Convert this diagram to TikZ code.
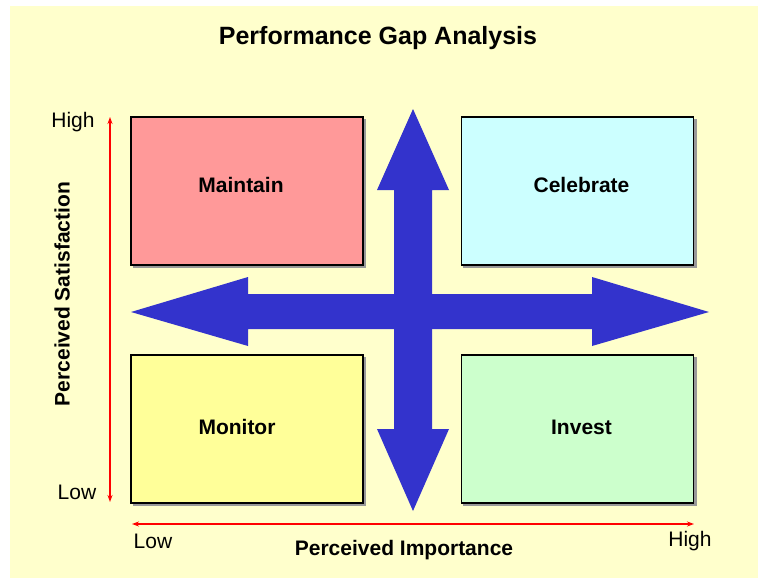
\documentclass[tikz,border=0pt]{standalone}
\usepackage{fontspec}
\setmainfont{Liberation Sans}
\usetikzlibrary{arrows.meta}
\definecolor{bgyellow}{HTML}{FFFFCC}
\definecolor{arrowblue}{HTML}{3333CC}
\definecolor{cmaintain}{HTML}{FF9999}
\definecolor{ccelebrate}{HTML}{CCFFFF}
\definecolor{cmonitor}{HTML}{FFFF99}
\definecolor{cinvest}{HTML}{CCFFCC}
\begin{document}
\begin{tikzpicture}[x=1pt,y=-1pt,
  quad/.style={draw=black, line width=1.6pt, minimum width=232pt, minimum height=148pt,
     inner sep=0pt},
  qlabel/.style={font=\fontsize{21}{24}\selectfont\bfseries, inner sep=0pt},
  tick/.style={font=\fontsize{21}{24}\selectfont, inner sep=0pt},
  axislabel/.style={font=\fontsize{21}{24}\selectfont\bfseries, inner sep=0pt},
  axis/.style={red, line width=1.3pt, {Stealth[length=7pt,width=5pt]}-{Stealth[length=7pt,width=5pt]}},
  bigarrow/.style={fill=arrowblue, draw=none}]
\useasboundingbox (0,0) rectangle (758,578);
\fill[white] (0,0) rectangle (758,578);
\fill[bgyellow] (10,6) rectangle (758,578);

\node[font=\fontsize{25}{28}\selectfont\bfseries, inner sep=0pt] (title) at (378,38) {Performance Gap Analysis};

% shadows
\fill[black!40] (133,119) rectangle (366,268);
\fill[black!40] (463,119) rectangle (697,268);
\fill[black!40] (133,357) rectangle (366,506);
\fill[black!40] (463,357) rectangle (697,506);

\node[quad, fill=cmaintain, label={[qlabel, xshift=-6pt, yshift=6pt]center:Maintain}] (maintain) at (247,191) {};
\node[quad, fill=ccelebrate, label={[qlabel, xshift=4pt, yshift=6pt]center:Celebrate}] (celebrate) at (577.5,191) {};
\node[quad, fill=cmonitor, label={[qlabel, xshift=-10pt, yshift=2pt]center:Monitor}] (monitor) at (247,429) {};
\node[quad, fill=cinvest, label={[qlabel, xshift=4pt, yshift=2pt]center:Invest}] (invest) at (577.5,429) {};

% blue cross arrows
\fill[bigarrow] (413,109) -- (449,190) -- (432,190) -- (432,429) -- (449,429) -- (413,511)
  -- (377,429) -- (394,429) -- (394,190) -- (377,190) -- cycle;
\fill[bigarrow] (131,312) -- (248,277) -- (248,294) -- (592,294) -- (592,277) -- (709,312)
  -- (592,346) -- (592,329) -- (248,329) -- (248,346) -- cycle;

% axes
\coordinate (vtop) at (110,117);
\coordinate (vbot) at (110,502);
\coordinate (hleft) at (132,524);
\coordinate (hright) at (694,524);
\draw[axis] (vbot) -- (vtop);
\draw[axis] (hleft) -- (hright);

\node[tick] (yhigh) at (73,122) {High};
\node[tick] (ylow) at (77,492) {Low};
\node[tick] (xlow) at (153,541) {Low};
\node[tick] (xhigh) at (690,541) {High};
\node[axislabel] (ximp) at (404,550) {Perceived Importance};
\node[axislabel, rotate=90] (ysat) at (62,294) {Perceived Satisfaction};
\end{tikzpicture}
\end{document}
